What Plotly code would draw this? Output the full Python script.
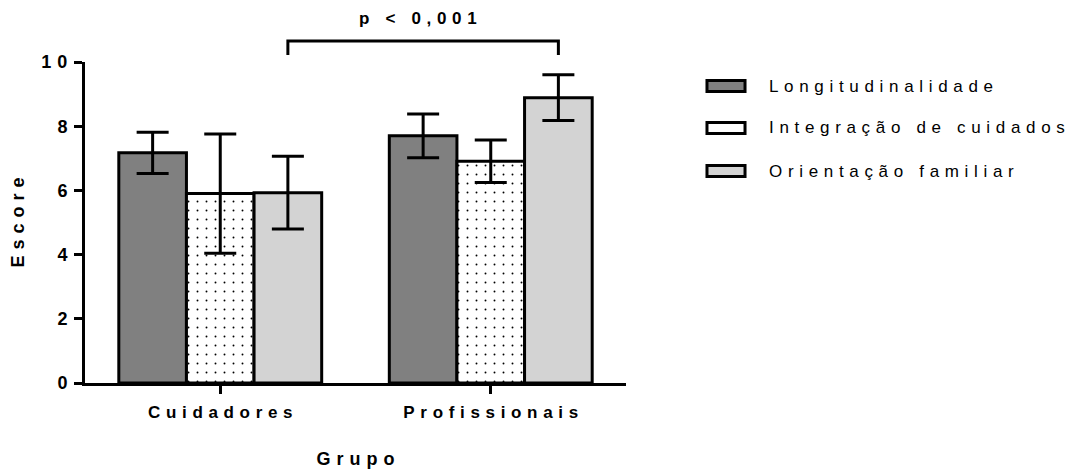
import plotly.graph_objects as go

# ---- data ----
groups = ["Cuidadores", "Profissionais"]
series_names = ["Longitudinalidade", "Integração de cuidados", "Orientação familiar"]
longitudinalidade = [7.17, 7.70]
integracao = [5.90, 6.91]
orientacao = [5.93, 8.89]
err_longitudinalidade = [0.64, 0.68]
err_integracao = [1.86, 0.66]
err_orientacao = [1.13, 0.71]
y_ticks = [0, 2, 4, 6, 8, 10]
p_label = "p < 0,001"
x_title = "Grupo"
y_title = "Escore"

FONT = "Liberation Sans, Arial, sans-serif"
SP = "\u2004"  # three-per-em space to imitate the letter spacing of the original


def spaced(s):
    return SP.join(list(s))


values = [longitudinalidade, integracao, orientacao]
errors = [err_longitudinalidade, err_integracao, err_orientacao]
fills = ["#808080", "white", "#d3d3d3"]

fig = go.Figure()
for i, (name, vals, errs, col) in enumerate(zip(series_names, values, errors, fills)):
    marker = dict(color=col, line=dict(color="black", width=3))
    if i == 1:
        marker["pattern"] = dict(shape=".", size=9, solidity=0.035,
                                 fgcolor="black", bgcolor="white", fillmode="replace")
    fig.add_trace(go.Bar(
        x=groups, y=vals, name=name, marker=marker, showlegend=False,
        error_y=dict(type="data", array=errs, symmetric=True,
                     color="black", thickness=3, width=16),
    ))

# ---- manual legend (wide boxes like the original) ----
leg_y = [0.9252, 0.7944, 0.6604]
for name, col, yy in zip(series_names, fills, leg_y):
    fig.add_shape(type="rect", xref="paper", yref="paper",
                  x0=1.1497, x1=1.2200, y0=yy - 0.0171, y1=yy + 0.0171,
                  fillcolor=col, line=dict(color="black", width=3))
    fig.add_annotation(xref="paper", yref="paper", x=1.2606, y=yy,
                       text=spaced(name), showarrow=False,
                       xanchor="left", yanchor="middle",
                       font=dict(family=FONT, size=17, color="black"))

# ---- significance bracket between the two "Orientação familiar" bars ----
x_left = 0 + 0.25
x_right = 1 + 0.25
fig.add_shape(type="path", xref="x", yref="paper",
              path=f"M {x_left},1.0218 L {x_left},1.0654 L {x_right},1.0654 L {x_right},1.0218",
              line=dict(color="black", width=3))
fig.add_annotation(xref="x", yref="paper", x=(x_left + x_right) / 2 - 0.02, y=1.137,
                   text=spaced(p_label), showarrow=False,
                   xanchor="center", yanchor="middle",
                   font=dict(family=FONT, size=17, color="black", weight="bold"))

fig.update_layout(
    width=1071, height=462,
    margin=dict(l=77, r=453, t=54, b=87, autoexpand=False),
    paper_bgcolor="white", plot_bgcolor="white",
    barmode="group", bargap=0.25, bargroupgap=0,
    font=dict(family=FONT, color="black"),
    showlegend=False,
)
fig.update_xaxes(
    range=[-0.5, 1.5], showline=True, linecolor="black", linewidth=3,
    ticks="outside", ticklen=8, tickwidth=3, tickcolor="black",
    tickvals=groups, ticktext=[spaced(g) for g in groups],
    tickfont=dict(family=FONT, size=17, color="black", weight="bold"),
    ticklabelstandoff=4,
    showgrid=False, zeroline=False, automargin=False,
    title=dict(text=spaced(x_title), standoff=31,
               font=dict(family=FONT, size=18, color="black", weight="bold")),
)
fig.update_yaxes(
    range=[0, 10], showline=True, linecolor="black", linewidth=3,
    ticks="outside", ticklen=8, tickwidth=3, tickcolor="black",
    tickvals=y_ticks, ticktext=[spaced(str(t)) for t in y_ticks],
    tickfont=dict(family=FONT, size=18, color="black", weight="bold"),
    ticklabelstandoff=3,
    showgrid=False, zeroline=False, automargin=False,
    title=dict(text=spaced(y_title), standoff=13,
               font=dict(family=FONT, size=18, color="black", weight="bold")),
)

fig.write_html("out.html")
